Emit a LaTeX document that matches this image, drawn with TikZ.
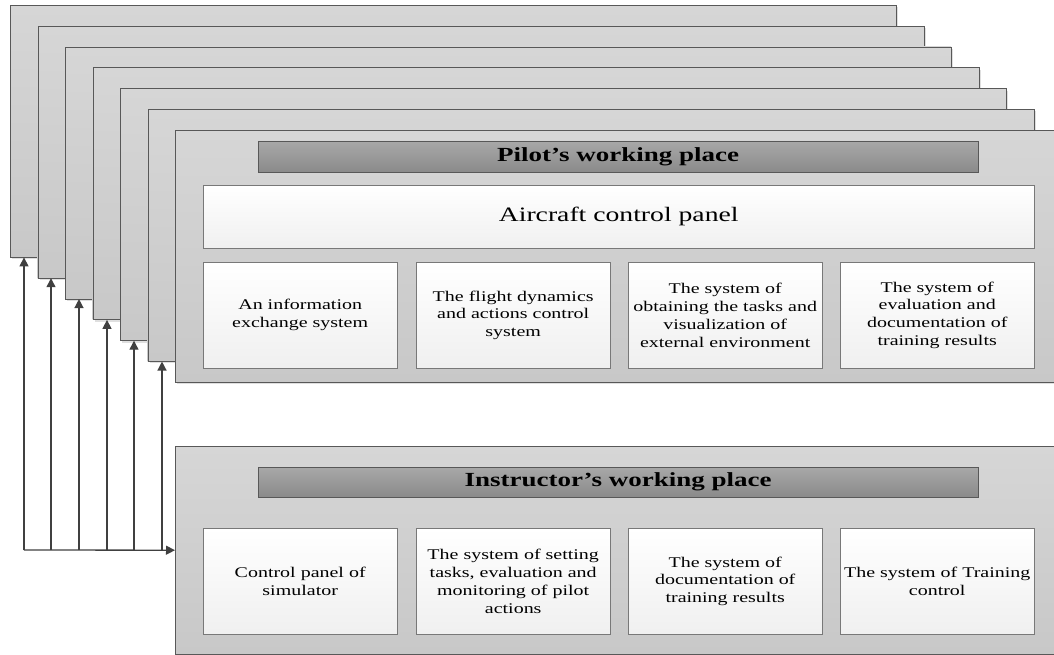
\documentclass[tikz,border=0pt]{standalone}
\usepackage{fontspec}
\setmainfont{Liberation Serif}[FakeStretch=1.35]
\usetikzlibrary{arrows.meta,shadows}
\definecolor{panelgray}{RGB}{214,214,214}
\definecolor{paneldark}{RGB}{200,200,200}
\definecolor{headlight}{RGB}{168,168,168}
\definecolor{headdark}{RGB}{138,138,138}
\definecolor{edgegray}{RGB}{88,88,88}
\definecolor{boxedge}{RGB}{120,120,120}
\definecolor{arrowgray}{RGB}{64,64,64}

\begin{document}
\begin{tikzpicture}[x=1pt,y=-1pt,
  panel/.style={draw=edgegray,top color=panelgray,bottom color=paneldark,anchor=north west,
    minimum width=886pt,minimum height=252pt,inner sep=0pt,
    drop shadow={shadow xshift=2pt,shadow yshift=-2pt,opacity=0.25}},
  headbox/.style={draw=edgegray,top color=headlight,bottom color=headdark,anchor=north west,
    minimum width=720pt,minimum height=31pt,inner sep=0pt,font=\bfseries\fontsize{20}{24}\selectfont},
  unitbox/.style={draw=boxedge,top color=white,bottom color=black!6,anchor=north west,
    minimum width=194pt,minimum height=106pt,inner sep=0pt,align=center,
    font=\fontsize{14.8}{17.8}\selectfont}]
  \useasboundingbox (0,0) rectangle (1054,655);

  % stacked pilot panels:
  \foreach \i in {1,...,6}
     \node[panel] (p\i) at ({10+27.5*(\i-1)},{5+20.83*(\i-1)}) {};

  \node[panel] (pilot) at (175,130) {};
  \node[headbox] (pilothead) at (258,141) {Pilot's working place};
  \node[unitbox,minimum width=831pt,minimum height=63pt,font=\fontsize{20.5}{24}\selectfont] (acp) at (203,185) {Aircraft control panel};
  \node[unitbox] (info) at (203,262) {An information\\exchange system};
  \node[unitbox] (dyn) at (416,262) {The flight dynamics\\and actions control\\system};
  \node[unitbox] (visu) at (628,262) {The system of\\obtaining the tasks and\\visualization of\\external environment};
  \node[unitbox] (eval) at (840,262) {The system of\\evaluation and\\documentation of\\training results};

  % instructor:
  \node[panel,minimum height=208pt] (instr) at (175,446) {};
  \node[headbox,minimum height=30pt] (instrhead) at (258,467) {Instructor's working place};
  \node[unitbox] (cpanel) at (203,528) {Control panel of\\simulator};
  \node[unitbox] (tasks) at (416,528) {The system of setting\\tasks, evaluation and\\monitoring of pilot\\actions};
  \node[unitbox] (docu) at (628,528) {The system of\\documentation of\\training results};
  \node[unitbox] (tcontrol) at (840,528) {The system of Training\\control};

  \begin{scope}[line width=1.3pt,arrowgray,>={Triangle[length=9pt,width=9pt]}]
      % links:
      \foreach \i/\fx in {1/24, 2/51, 3/79, 4/107, 5/134, 6/162} {
         \coordinate (f\i) at (\fx,550);
         \draw[->] (f\i) -- (f\i |- p\i.south);
      }
      \draw[->] (f1) -- (instr.west);
  \end{scope}
\end{tikzpicture}
\end{document}
